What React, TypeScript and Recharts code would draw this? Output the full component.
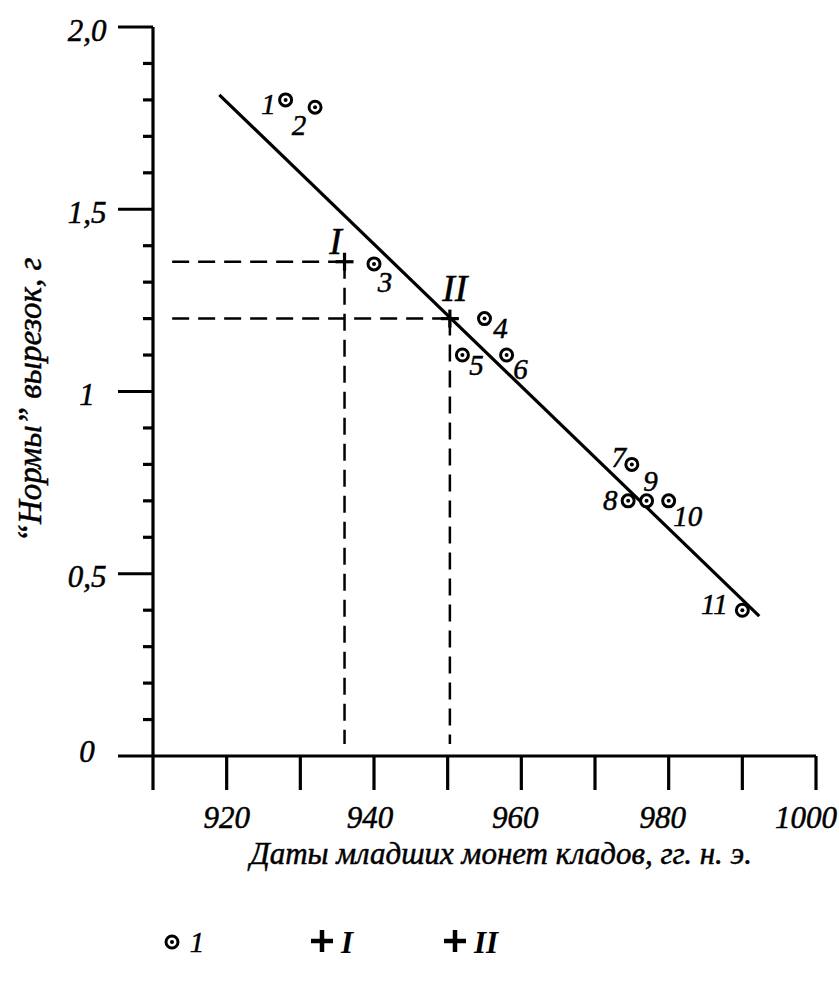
import React from 'react';
import { ComposedChart, XAxis, YAxis, Scatter, ReferenceLine, Legend } from 'recharts';

// ---- data ----
const hoardYears = [928, 932, 940, 955, 952, 958, 975, 974.5, 977, 980, 990];
const hoardNorms = [1.8, 1.78, 1.35, 1.2, 1.1, 1.1, 0.8, 0.7, 0.7, 0.7, 0.4];
const hoardLabels = ['1', '2', '3', '4', '5', '6', '7', '8', '9', '10', '11'];

const trendYears = [919, 992.3];
const trendNorms = [1.814, 0.384];

const crossYears = [936, 950.3];
const crossNorms = [1.356, 1.2];
const crossLabels = ['I', 'II'];

const guideStartYear = 912.6;
const guideEndNorm = 0.033;

const xTicks = [910, 920, 930, 940, 950, 960, 970, 980, 990, 1000];
const xLabeledTicks = [920, 940, 960, 980, 1000];
const yTicks = [0, 0.1, 0.2, 0.3, 0.4, 0.5, 0.6, 0.7, 0.8, 0.9, 1, 1.1, 1.2, 1.3, 1.4, 1.5, 1.6, 1.7, 1.8, 1.9, 2];
const yMajorValues = [0, 0.5, 1, 1.5, 2];
const yMajorLabels = ['0', '0,5', '1', '1,5', '2,0'];

const xTitle = 'Даты младших монет кладов, гг. н. э.';
const yTitle = '“Нормы” вырезок, г';

// ---- styling (label offsets in px relative to marks) ----
const hoardLabelOffsets = [
  [-17, 4], [-16, 18], [11, 18], [16, 9], [14, 10], [14, 14],
  [-13, -7], [-18, -1], [4, -20], [19, 15], [-28, -6],
];
const crossLabelOffsets = [[-9, -21], [5, -31]];
const xLabelShift = [0, -4, -6, -6, -10];

const FONT = '"Liberation Serif", "Times New Roman", serif';
const INK = { fill: '#000', stroke: '#000', strokeWidth: 0.5 };

const hoardData = hoardYears.map((x, i) => ({
  x, y: hoardNorms[i], label: hoardLabels[i], dx: hoardLabelOffsets[i][0], dy: hoardLabelOffsets[i][1],
}));
const crossData = crossYears.map((x, i) => ({
  x, y: crossNorms[i], label: crossLabels[i], dx: crossLabelOffsets[i][0], dy: crossLabelOffsets[i][1],
}));

const XTick = (props: any) => {
  const { x, y, payload } = props;
  const v = payload.value;
  const li = xLabeledTicks.indexOf(v);
  return (
    <g>
      <line x1={x} x2={x} y1={y} y2={y + 34} stroke="#000" strokeWidth={3.2} />
      {li >= 0 && (
        <text x={x + xLabelShift[li]} y={y + 61} textAnchor="middle" dominantBaseline="central"
          fontFamily={FONT} fontStyle="italic" fontSize={31} {...INK}>{String(v)}</text>
      )}
    </g>
  );
};

const YTick = (props: any) => {
  const { x, y, payload } = props;
  const v = payload.value;
  const idx = yMajorValues.findIndex((m) => Math.abs(m - v) < 1e-6);
  const major = idx >= 0;
  const dy = v === 0 ? -5 : 3;
  return (
    <g>
      <line x1={x} x2={x - (major ? 35 : 10)} y1={y} y2={y} stroke="#000" strokeWidth={3.2} />
      {major && (
        <text x={x - 66} y={y + dy} textAnchor="middle" dominantBaseline="central"
          fontFamily={FONT} fontStyle="italic" fontSize={31} {...INK}>{yMajorLabels[idx]}</text>
      )}
    </g>
  );
};

const HoardMarker = (props: any) => {
  const { cx, cy, payload } = props;
  return (
    <g>
      <circle cx={cx} cy={cy} r={6} fill="#fff" stroke="#000" strokeWidth={3} />
      <circle cx={cx} cy={cy} r={2} fill="#000" />
      <text x={cx + payload.dx} y={cy + payload.dy} textAnchor="middle" dominantBaseline="central"
        fontFamily={FONT} fontStyle="italic" fontSize={29} {...INK}>{payload.label}</text>
    </g>
  );
};

const CrossMarker = (props: any) => {
  const { cx, cy, payload } = props;
  return (
    <g>
      <line x1={cx - 9} x2={cx + 9} y1={cy} y2={cy} stroke="#000" strokeWidth={3.2} />
      <line x1={cx} x2={cx} y1={cy - 9} y2={cy + 9} stroke="#000" strokeWidth={3.2} />
      <text x={cx + payload.dx} y={cy + payload.dy} textAnchor="middle" dominantBaseline="central"
        fontFamily={FONT} fontStyle="italic" fontSize={38} {...INK}>{payload.label}</text>
    </g>
  );
};

const LegendContent = () => (
  <svg width={839} height={50}>
    <g>
      <circle cx={172} cy={27} r={6} fill="#fff" stroke="#000" strokeWidth={3} />
      <circle cx={172} cy={27} r={2} fill="#000" />
      <text x={197} y={27} textAnchor="middle" dominantBaseline="central"
        fontFamily={FONT} fontStyle="italic" fontSize={29} {...INK}>{hoardLabels[0]}</text>
    </g>
    <g>
      <line x1={311} x2={333} y1={26} y2={26} stroke="#000" strokeWidth={4.5} />
      <line x1={322} x2={322} y1={15} y2={37} stroke="#000" strokeWidth={4.5} />
      <text x={347} y={27} textAnchor="middle" dominantBaseline="central"
        fontFamily={FONT} fontStyle="italic" fontWeight="bold" fontSize={31}>{crossLabels[0]}</text>
    </g>
    <g>
      <line x1={444} x2={466} y1={26} y2={26} stroke="#000" strokeWidth={4.5} />
      <line x1={455} x2={455} y1={15} y2={37} stroke="#000" strokeWidth={4.5} />
      <text x={486} y={27} textAnchor="middle" dominantBaseline="central"
        fontFamily={FONT} fontStyle="italic" fontWeight="bold" fontSize={31}>{crossLabels[1]}</text>
    </g>
  </svg>
);

export default function App() {
  return (
    <div style={{ position: 'absolute', left: 0, top: 0, width: 839, height: 981, background: '#fff' }}>
      <ComposedChart width={839} height={981} margin={{ top: 27, right: 23, bottom: 224, left: 152 }}>
        <XAxis
          type="number" dataKey="x" domain={[910, 1000]} ticks={xTicks} allowDataOverflow
          height={1} tickSize={0} tickMargin={0} tickLine={false} interval={0}
          axisLine={{ stroke: '#000', strokeWidth: 3.2 }} tick={<XTick />}
          label={{
            value: xTitle,
            content: () => (
              <text x={501} y={853} textAnchor="middle" dominantBaseline="central"
                fontFamily={FONT} fontStyle="italic" fontSize={31} {...INK}>{xTitle}</text>
            ),
          }}
        />
        <YAxis
          type="number" dataKey="y" domain={[0, 2]} ticks={yTicks} allowDataOverflow
          width={1} tickSize={0} tickMargin={0} tickLine={false} interval={0}
          axisLine={{ stroke: '#000', strokeWidth: 3.2 }} tick={<YTick />}
          label={{
            value: yTitle,
            content: () => (
              <text x={30} y={400} textAnchor="middle" dominantBaseline="central"
                transform="rotate(-90 30 400)"
                fontFamily={FONT} fontStyle="italic" fontSize={33} {...INK}>{yTitle}</text>
            ),
          }}
        />
        {crossYears.map((cx, i) => (
          <ReferenceLine key={`h${i}`} segment={[{ x: guideStartYear, y: crossNorms[i] }, { x: cx, y: crossNorms[i] }]}
            stroke="#000" strokeWidth={2.5} strokeDasharray="17 9" />
        ))}
        {crossYears.map((cx, i) => (
          <ReferenceLine key={`v${i}`} segment={[{ x: cx, y: crossNorms[i] }, { x: cx, y: guideEndNorm }]}
            stroke="#000" strokeWidth={2.5} strokeDasharray="17 9" />
        ))}
        <ReferenceLine
          segment={[{ x: trendYears[0], y: trendNorms[0] }, { x: trendYears[1], y: trendNorms[1] }]}
          stroke="#000" strokeWidth={3.2}
        />
        <Scatter data={hoardData} dataKey="y" shape={<HoardMarker />} isAnimationActive={false} />
        <Scatter data={crossData} dataKey="y" shape={<CrossMarker />} isAnimationActive={false} />
        <Legend
          layout="vertical" align="center" verticalAlign="middle"
          content={<LegendContent />}
          wrapperStyle={{ position: 'absolute', left: 0, top: 915, width: 839, height: 50 }}
        />
      </ComposedChart>
    </div>
  );
}
